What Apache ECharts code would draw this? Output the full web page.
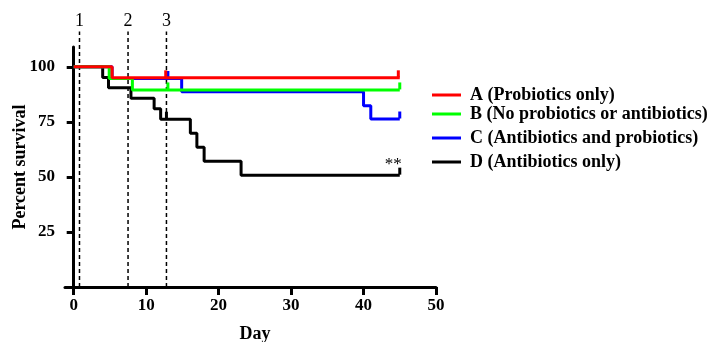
<!DOCTYPE html>
<html>
<head>
<meta charset="utf-8">
<script src="https://cdn.jsdelivr.net/npm/echarts@6/dist/echarts.min.js"></script>
<style>
    html, body { margin: 0; padding: 0; background: #fff; }
    #chart { width: 718px; height: 342px; }
</style>
</head>
<body>
<div id="chart"></div>
<script>
    const groupNames = ['A (Probiotics only)', 'B (No probiotics or antibiotics)', 'C (Antibiotics and probiotics)', 'D (Antibiotics only)'];
    const groupColors = ['#ff0000', '#00ff00', '#0000ff', '#000000'];

    // survival steps: [day, percent surviving after the drop]
    const survA = [[0, 100], [5.3, 95], [45, 95]];
    const survB = [[0, 100], [4.9, 94.7], [8.1, 89.5], [45, 89.5]];
    const survC = [[0, 100], [5.3, 94.7], [14.9, 88.7], [40, 82.3], [41, 76.3], [45, 76.3]];
    const survD = [[0, 100], [4, 95.2], [4.8, 90.5], [7.9, 85.7], [11.1, 81], [12, 76.2],
                   [16.1, 69.8], [17, 63.5], [18, 57.1], [23.1, 50.8], [45, 50.8]];

    // censored marks
    const censorA = [[12.7, 95], [44.8, 95]];
    const censorB = [[13, 89.5], [45, 89.5]];
    const censorC = [[13, 94.7], [45, 76.3]];
    const censorD = [[12.8, 76.2], [45, 50.8]];

    const markerDays = [0.8, 7.5, 12.8];
    const markerLabels = ['1', '2', '3'];
    const markerRange = [0, 116];
    const xTicks = [0, 10, 20, 30, 40, 50];
    const yTicks = [25, 50, 75, 100];
    const starPoint = [[44.1, 55.8]];

    const serif = '"Liberation Serif", "Times New Roman", serif';
    const legendTops = [86, 105, 129, 153];

    const chart = echarts.init(document.getElementById('chart'));

    function stepSeries(i, data) {
        return {
            name: groupNames[i],
            type: 'line',
            step: 'end',
            data: data,
            showSymbol: false,
            symbol: 'none',
            color: groupColors[i],
            lineStyle: { width: 3, color: groupColors[i] },
            z: 3 + (3 - i)
        };
    }

    function censorSeries(i, data) {
        return {
            name: groupNames[i] + ' censored',
            type: 'scatter',
            data: data,
            symbol: 'rect',
            symbolSize: [3, 7],
            symbolOffset: [0, -4],
            itemStyle: { color: groupColors[i], opacity: 1 },
            z: 3 + (3 - i)
        };
    }

    const survData = [survA, survB, survC, survD];
    const censorData = [censorA, censorB, censorC, censorD];

    const series = [];
    // dashed day markers, drawn as tiny line series so they can run above the axis top
    markerDays.forEach((d, k) => {
        series.push({
            name: 'marker ' + markerLabels[k],
            type: 'line',
            clip: false,
            silent: true,
            symbol: 'none',
            showSymbol: false,
            lineStyle: { type: [4, 3], width: 1.5, color: '#000' },
            data: [[d, markerRange[0]], [d, markerRange[1]]],
            z: 2
        });
    });
    // the marker numbers above the dashed lines
    series.push({
        name: 'marker labels',
        type: 'scatter',
        clip: false,
        silent: true,
        data: markerDays.map((d) => [d, markerRange[1]]),
        symbolSize: 1,
        itemStyle: { opacity: 0 },
        label: {
            show: true,
            position: 'top',
            distance: 1,
            formatter: (p) => markerLabels[p.dataIndex],
            color: '#000',
            opacity: 1,
            fontFamily: serif,
            fontSize: 18
        }
    });
    // draw D first so A sits on top
    for (let i = 3; i >= 0; i--) {
        series.push(stepSeries(i, survData[i]));
        series.push(censorSeries(i, censorData[i]));
    }
    series.push({
        name: 'significance',
        type: 'scatter',
        silent: true,
        data: starPoint,
        symbolSize: 1,
        itemStyle: { opacity: 0 },
        label: {
            show: true,
            position: 'inside',
            formatter: '**',
            color: '#000',
            opacity: 1,
            fontFamily: serif,
            fontSize: 17
        }
    });

    chart.setOption({
        animation: false,
        backgroundColor: '#fff',
        grid: {
            left: 65, right: 282, top: 47, bottom: 55,
            outerBounds: { left: -200, right: -200, top: -200, bottom: -200 }
        },
        legend: groupNames.map((n, i) => ({
            data: [n],
            left: 432,
            top: legendTops[i],
            padding: 0,
            icon: 'rect',
            itemWidth: 29,
            itemHeight: 3,
            selectedMode: false,
            textStyle: {
                fontFamily: serif,
                fontWeight: 'bold',
                fontSize: 18,
                color: '#000',
                padding: [0, 0, 0, 4]
            }
        })),
        xAxis: {
            type: 'value',
            min: -1.2,
            max: 50,
            name: 'Day',
            nameLocation: 'middle',
            nameGap: 38,
            nameMoveOverlap: false,
            nameTextStyle: { fontFamily: serif, fontWeight: 'bold', fontSize: 18, color: '#000', padding: [0, 0, 0, 9] },
            axisLine: { lineStyle: { color: '#000', width: 3 } },
            axisTick: { customValues: xTicks, length: 8, lineStyle: { width: 3, color: '#000' } },
            axisLabel: { customValues: xTicks, margin: 10, fontFamily: serif, fontWeight: 'bold', fontSize: 17, color: '#000' },
            splitLine: { show: false }
        },
        yAxis: {
            type: 'value',
            min: 0,
            max: 109,
            name: 'Percent survival',
            nameLocation: 'middle',
            nameGap: 36,
            nameMoveOverlap: false,
            nameRotate: 90,
            nameTextStyle: { fontFamily: serif, fontWeight: 'bold', fontSize: 18, color: '#000' },
            axisLine: { show: true, lineStyle: { color: '#000', width: 3 } },
            axisTick: { show: true, customValues: yTicks, length: 7, lineStyle: { width: 3, color: '#000' } },
            axisLabel: { customValues: yTicks, margin: 10, fontFamily: serif, fontWeight: 'bold', fontSize: 17, color: '#000' },
            splitLine: { show: false }
        },
        series: series
    });
</script>
</body>
</html>
